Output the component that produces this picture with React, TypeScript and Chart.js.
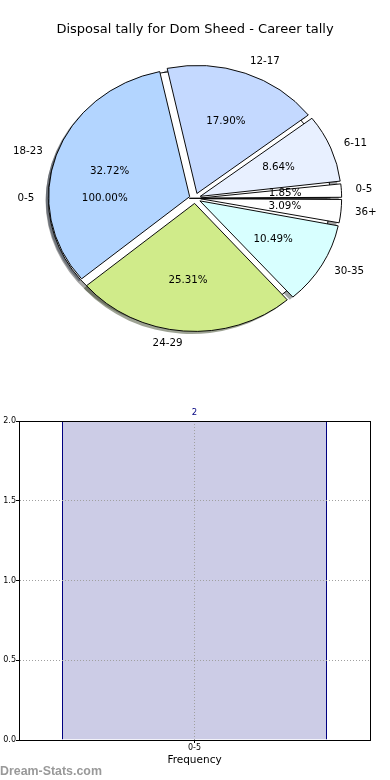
import React, { useEffect, useRef } from 'react';
import { Chart, registerables } from 'chart.js';

Chart.register(...registerables);

// ---------- data ----------
const TITLE = 'Disposal tally for Dom Sheed - Career tally';
const careerCategories = ['0-5', '6-11', '12-17', '18-23', '24-29', '30-35', '36+'];
const careerCounts = [3, 14, 29, 53, 41, 17, 5];
const careerColors = ['#ffffff', '#e8f0ff', '#c4d9ff', '#b3d5ff', '#d0eb8a', '#d8ffff', '#ffffff'];
const freqCategories = ['0-5'];
const freqCounts = [2];
const freqColors = ['#ffffff'];
const yTicks = [0, 0.5, 1.0, 1.5, 2.0];
const X_TITLE = 'Frequency';
const WATERMARK = 'Dream-Stats.com';

// ---------- pie geometry / style ----------
const R = 141; // horizontal radius in px
const K = 128 / 141; // vertical squash (matplotlib non-equal aspect)
const EXPLODE = 0.04 * R;
const SHADOW = 0.02 * R;
const FONT = '"DejaVu Sans", sans-serif';

const rev = <T,>(a: T[]): T[] => a.slice().reverse();

function shadowOf(hex: string): string {
  const n = parseInt(hex.slice(1), 16);
  const r = (n >> 16) & 255, g = (n >> 8) & 255, b = n & 255;
  return `rgba(${Math.round(r * 0.3)},${Math.round(g * 0.3)},${Math.round(b * 0.3)},0.5)`;
}

const pieFx = {
  id: 'pieFx',
  afterDatasetsUpdate(chart: any) {
    chart.data.datasets.forEach((_ds: any, i: number) => {
      const meta = chart.getDatasetMeta(i);
      meta.data.forEach((arc: any) => {
        const off = ((arc.options && arc.options.offset) || 0) / 4;
        const fix = 1 - Math.sin(Math.min(Math.PI, arc.circumference));
        arc.innerRadius = 0;
        arc.outerRadius = R - off * fix;
      });
    });
  },
  beforeDatasetsDraw(chart: any) {
    const ctx = chart.ctx;
    const first = chart.getDatasetMeta(0).data[0];
    const cx = first.x, cy = first.y;
    ctx.save();
    ctx.translate(cx, cy);
    ctx.scale(1, K);
    ctx.translate(-cx, -cy);
    for (let i = chart.data.datasets.length - 1; i >= 0; i--) {
      const meta = chart.getDatasetMeta(i);
      meta.data.forEach((arc: any) => {
        const mid = (arc.startAngle + arc.endAngle) / 2;
        const off = (arc.options.offset || 0) / 4;
        const sx = arc.x + Math.cos(mid) * off - SHADOW;
        const sy = arc.y + Math.sin(mid) * off + SHADOW;
        ctx.beginPath();
        ctx.moveTo(sx, sy);
        ctx.arc(sx, sy, R, arc.startAngle, arc.endAngle);
        ctx.closePath();
        ctx.fillStyle = shadowOf(arc.options.backgroundColor);
        ctx.fill();
      });
    }
  },
  afterDatasetsDraw(chart: any) {
    const ctx = chart.ctx;
    ctx.restore();
    ctx.save();
    ctx.font = `10.3px ${FONT}`;
    ctx.fillStyle = '#000';
    ctx.textBaseline = 'middle';
    chart.data.datasets.forEach((ds: any, i: number) => {
      const meta = chart.getDatasetMeta(i);
      const total = ds.data.reduce((a: number, b: number) => a + b, 0);
      meta.data.forEach((arc: any, j: number) => {
        const mid = (arc.startAngle + arc.endAngle) / 2;
        const off = (arc.options.offset || 0) / 4;
        const c = Math.cos(mid), s = Math.sin(mid);
        const lr = 1.1 * R + off;
        ctx.textAlign = c > 0 ? 'left' : 'right';
        ctx.fillText(ds.sliceLabels[j], arc.x + c * lr, arc.y + s * lr * K);
        const pr = 0.6 * R + off;
        ctx.textAlign = 'center';
        ctx.fillText(((ds.data[j] / total) * 100).toFixed(2) + '%', arc.x + c * pr, arc.y + s * pr * K);
      });
    });
    ctx.restore();
  },
};

const barFx = {
  id: 'barFx',
  afterDatasetsDraw(chart: any) {
    const ctx = chart.ctx;
    const meta = chart.getDatasetMeta(0);
    ctx.save();
    ctx.font = `8.5px ${FONT}`;
    ctx.fillStyle = '#000080';
    ctx.textAlign = 'center';
    ctx.textBaseline = 'middle';
    meta.data.forEach((bar: any, i: number) => {
      ctx.fillText(String(freqCounts[i]), bar.x, bar.y - 8);
    });
    ctx.restore();
  },
  afterDraw(chart: any) {
    const { ctx, chartArea } = chart;
    ctx.save();
    ctx.strokeStyle = '#000';
    ctx.lineWidth = 1;
    const l = Math.round(chartArea.left) + 0.5;
    const t = Math.round(chartArea.top) + 0.5;
    const r = Math.round(chartArea.right) + 0.5;
    const b = Math.round(chartArea.bottom) + 0.5;
    ctx.strokeRect(l, t, r - l, b - t);
    ctx.restore();
  },
};

export default function App() {
  const pieRef = useRef<HTMLCanvasElement>(null);
  const barRef = useRef<HTMLCanvasElement>(null);

  useEffect(() => {
    const pie = new Chart(pieRef.current as HTMLCanvasElement, {
      type: 'pie',
      data: {
        labels: rev(careerCategories),
        datasets: [
          {
            data: rev(careerCounts),
            backgroundColor: rev(careerColors),
            borderColor: '#000',
            borderWidth: 1,
            offset: EXPLODE * 4,
            hoverOffset: 0,
            radius: R,
            rotation: 90,
            clip: false,
            sliceLabels: rev(careerCategories),
          } as any,
          {
            data: freqCounts,
            backgroundColor: freqColors,
            borderColor: '#000',
            borderWidth: 1,
            offset: EXPLODE * 4,
            hoverOffset: 0,
            radius: R,
            rotation: 90,
            clip: false,
            sliceLabels: freqCategories,
          } as any,
        ],
      },
      options: {
        animation: false,
        responsive: false,
        devicePixelRatio: 1,
        events: [],
        radius: R,
        rotation: 90,
        layout: { padding: 0 },
        plugins: {
          legend: { display: false },
          tooltip: { enabled: false },
          title: {
            display: true,
            text: TITLE,
            color: '#000',
            font: { family: FONT, size: 13, weight: 'normal' },
            padding: { top: 22, bottom: 0 },
          },
        },
      } as any,
      plugins: [pieFx],
    });

    const bar = new Chart(barRef.current as HTMLCanvasElement, {
      type: 'bar',
      data: {
        labels: freqCategories,
        datasets: [
          {
            data: freqCounts,
            backgroundColor: '#cccce6',
            borderColor: '#000080',
            borderWidth: 1,
            borderSkipped: 'start',
            barPercentage: 265 / 351,
            categoryPercentage: 1.0,
          },
        ],
      },
      options: {
        animation: false,
        responsive: false,
        devicePixelRatio: 1,
        events: [],
        layout: { padding: { top: 41, right: 20, left: 0, bottom: 0 } },
        plugins: { legend: { display: false }, tooltip: { enabled: false }, title: { display: false } },
        scales: {
          x: {
            afterFit: (s: any) => { s.height = 40; },
            grid: {
              display: true,
              offset: false,
              color: '#a0a0a0',
              lineWidth: 1,
              drawTicks: true,
              tickLength: 3,
              tickColor: '#000',
              z: 1,
            },
            border: { display: true, color: '#000', width: 1, dash: [1, 2], z: 1 },
            ticks: { color: '#000', font: { family: FONT, size: 8 }, padding: 0 },
            title: {
              display: true,
              text: X_TITLE,
              color: '#000',
              font: { family: FONT, size: 10.5 },
              padding: { top: 0, bottom: 13.7 },
            },
          },
          y: {
            min: 0,
            max: 2,
            afterFit: (s: any) => { s.width = 19; },
            afterBuildTicks: (s: any) => { s.ticks = yTicks.map((v) => ({ value: v })); },
            grid: {
              display: true,
              color: '#a0a0a0',
              lineWidth: 1,
              drawTicks: true,
              tickLength: 3,
              tickColor: '#000',
              z: 1,
            },
            border: { display: true, color: '#000', width: 1, dash: [1, 2], z: 1 },
            ticks: {
              color: '#000',
              font: { family: FONT, size: 8 },
              padding: 0,
              callback: (v: any) => Number(v).toFixed(1),
            },
          },
        },
      } as any,
      plugins: [barFx],
    });

    return () => {
      pie.destroy();
      bar.destroy();
    };
  }, []);

  return (
    <div style={{ position: 'absolute', left: 0, top: 0, width: 390, height: 780, background: '#fff' }}>
      <canvas ref={pieRef} width={390} height={359} style={{ position: 'absolute', left: 0, top: 0, display: 'block' }} />
      <canvas ref={barRef} width={390} height={400} style={{ position: 'absolute', left: 0, top: 380, display: 'block' }} />
      <div
        style={{
          position: 'absolute',
          left: 0,
          top: 764.5,
          font: 'bold 12.4px "Liberation Sans", Arial, sans-serif',
          lineHeight: 1,
          color: '#999',
          whiteSpace: 'nowrap',
        }}
      >
        {WATERMARK}
      </div>
    </div>
  );
}
